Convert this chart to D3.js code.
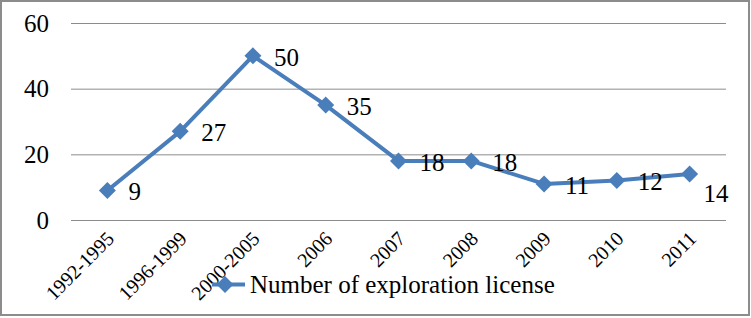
<!DOCTYPE html>
<html>
<head>
<meta charset="utf-8">
<script src="https://cdn.jsdelivr.net/npm/d3@7"></script>
<style>
  body { margin: 0; background: #fff; }
  svg { display: block; }
  svg text { font-family: "Liberation Serif", "DejaVu Serif", serif; }
</style>
</head>
<body>
<div id="chart"></div>
<script>
// data
const categories = ['1992-1995','1996-1999','2000-2005','2006','2007','2008','2009','2010','2011'];
const licenses   = [9, 27, 50, 35, 18, 18, 11, 12, 14];
const yTicks     = [0, 20, 40, 60];
const seriesName = 'Number of exploration license';

const W = 751, H = 318;
const COLOR = '#4A7EBB';
const GRID  = '#8C8C8C';
const FONT  = 'Liberation Serif';

const svg = d3.select('#chart').append('svg')
  .attr('width', W).attr('height', H);

svg.append('rect')
  .attr('x', 1).attr('y', 1).attr('width', W - 3).attr('height', H - 4)
  .attr('fill', '#fff').attr('stroke', '#8C8C8C').attr('stroke-width', 2);

const x = d3.scalePoint().domain(categories).range([71, 726]).padding(0.5);
const y = d3.scaleLinear().domain([0, 60]).range([220, 23]);

// gridlines
svg.append('g').selectAll('line')
  .data(yTicks)
  .join('line')
  .attr('x1', 71).attr('x2', 726)
  .attr('y1', d => y(d) + 0.5).attr('y2', d => y(d) + 0.5)
  .attr('stroke', GRID).attr('stroke-width', 1);

// y labels
svg.append('g').selectAll('text')
  .data(yTicks)
  .join('text')
  .attr('x', 49).attr('y', d => y(d))
  .attr('dy', '0.35em')
  .attr('text-anchor', 'end')
  .attr('font-family', FONT)
  .attr('font-size', 25)
  .attr('fill', '#000')
  .text(d => d);

// x labels, rotated
svg.append('g').selectAll('text')
  .data(categories)
  .join('text')
  .attr('transform', d => `translate(${x(d) + 3},${235}) rotate(-45)`)
  .attr('text-anchor', 'end')
  .attr('dy', '0.35em')
  .attr('font-family', FONT)
  .attr('font-size', 20)
  .attr('fill', '#000')
  .text(d => d);

// line
const line = d3.line()
  .x((d, i) => x(categories[i]))
  .y(d => y(d));

svg.append('path')
  .datum(licenses)
  .attr('d', line)
  .attr('fill', 'none')
  .attr('stroke', COLOR)
  .attr('stroke-width', 4)
  .attr('stroke-linejoin', 'round');

const diamondPath = 'M0,-8.5L8.5,0L0,8.5L-8.5,0Z';

svg.append('g').selectAll('path')
  .data(licenses)
  .join('path')
  .attr('transform', (d, i) => `translate(${x(categories[i])},${y(d)})`)
  .attr('d', diamondPath)
  .attr('fill', COLOR);

// data labels (last one sits below-right)
svg.append('g').selectAll('text')
  .data(licenses)
  .join('text')
  .attr('x', (d, i) => x(categories[i]) + (i === licenses.length - 1 ? 14 : 21))
  .attr('y', (d, i) => y(d) + (i === licenses.length - 1 ? 19 : 1))
  .attr('dy', '0.35em')
  .attr('font-family', FONT)
  .attr('font-size', 25)
  .attr('fill', '#000')
  .text(d => d);

// legend
const leg = svg.append('g').attr('transform', 'translate(225,284.5)');
leg.append('line')
  .attr('x1', -13).attr('x2', 20).attr('y1', 0).attr('y2', 0)
  .attr('stroke', COLOR).attr('stroke-width', 4);
leg.append('path').attr('d', diamondPath).attr('fill', COLOR);
leg.append('text')
  .attr('x', 25).attr('y', 0).attr('dy', '0.35em')
  .attr('font-family', FONT)
  .attr('font-size', 25)
  .attr('fill', '#000')
  .text(seriesName);
</script>
</body>
</html>
